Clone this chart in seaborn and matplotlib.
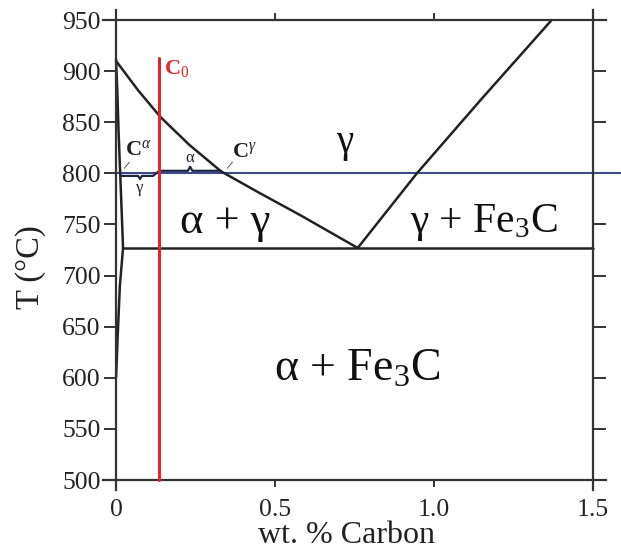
import matplotlib
matplotlib.use("Agg")
import matplotlib.pyplot as plt
import seaborn as sns
import pandas as pd

# Phase boundaries of the Fe–C diagram (wt. % C, °C)
a3_c = [0.0, 0.07, 0.14, 0.23, 0.33, 0.45, 0.58, 0.76]
a3_t = [910, 881, 855, 828, 802, 781, 759, 727]
acm_c = [0.76, 0.946, 1.15, 1.37]
acm_t = [727, 800, 873, 950]
alpha_upper_c = [0.0, 0.004, 0.008, 0.013, 0.018, 0.022]
alpha_upper_t = [912, 880, 840, 800, 760, 727]
alpha_solvus_c = [0.022, 0.012, 0.005, 0.0]
alpha_solvus_t = [727, 690, 640, 600]
eutectoid_c = [0.022, 1.5]
eutectoid_t = [727, 727]

# Alloy composition and the isotherm used for the lever rule
c0 = 0.136
c0_t = [500, 913]
c_alpha = 0.015
c_gamma = 0.33
t_iso = 800

x_ticks = [0, 0.5, 1.0, 1.5]
x_tick_labels = ["0", "0.5", "1.0", "1.5"]
y_ticks = [500, 550, 600, 650, 700, 750, 800, 850, 900, 950]

sns.set_theme(style="white")
plt.rcParams["font.family"] = ["Liberation Serif", "DejaVu Serif"]
plt.rcParams["mathtext.fontset"] = "custom"
plt.rcParams["mathtext.rm"] = "Liberation Serif"
plt.rcParams["mathtext.it"] = "Liberation Serif:italic"

fig = plt.figure(figsize=(6.21, 5.51), dpi=100)
ax = fig.add_axes([0.1664, 0.1103, 0.809, 0.8719])
ax.set_xlim(-0.04, 1.54)
ax.set_ylim(490, 960)

line_kw = dict(color="#222222", linewidth=1.8, estimator=None, sort=False, ax=ax, legend=False)


def boundary(cs, ts, **kw):
    df = pd.DataFrame({"c": cs, "t": ts})
    opts = dict(line_kw)
    opts.update(kw)
    sns.lineplot(data=df, x="c", y="t", **opts)


# Isotherm
ax.plot([0, 1.6], [t_iso, t_iso], color="#3c4a8c", linewidth=1.5, clip_on=False, zorder=2)

boundary(a3_c, a3_t)
boundary(acm_c, acm_t)
boundary(alpha_upper_c, alpha_upper_t)
boundary(alpha_solvus_c, alpha_solvus_t)
boundary(eutectoid_c, eutectoid_t)

# Lever-rule brace along the isotherm
lo, hi = t_iso - 2.5, t_iso + 2.5
mid_g = (c_alpha + c0) / 2
mid_a = (c0 + c_gamma) / 2
brace_c = [c_alpha, mid_g - 0.006, mid_g, mid_g + 0.006, c0 - 0.02, c0,
           mid_a - 0.007, mid_a, mid_a + 0.007, c_gamma]
brace_t = [lo, lo, lo - 3, lo, lo, hi, hi, hi + 4, hi, hi]
ax.plot(brace_c, brace_t, color="#1e2540", linewidth=1.6, zorder=3)

# Leader lines to the tie-line ends
ax.plot([0.026, 0.042], [805, 811], color="#555555", linewidth=0.7)
ax.plot([0.350, 0.366], [805, 811], color="#555555", linewidth=0.7)

# Alloy composition
ax.plot([c0, c0], c0_t, color="#e2262b", linewidth=2.2, zorder=4)

ax.text(0.150, 903, r"C$_0$", color="#e2262b", fontsize=16, fontweight="bold",
        ha="left", va="center")
ax.text(0.028, 823, r"C$^{\alpha}$", color="#222222", fontsize=16, fontweight="bold",
        ha="left", va="center")
ax.text(0.365, 821, r"C$^{\gamma}$", color="#222222", fontsize=16, fontweight="bold",
        ha="left", va="center")
ax.text(mid_a, 815, "α", fontsize=12, ha="center", va="center", color="#222222")
ax.text(mid_g, 786, "γ", fontsize=12, ha="center", va="center", color="#222222")

# Phase-field labels
ax.text(0.72, 830, "γ", fontsize=28, ha="center", va="center", color="#111111")
ax.text(0.343, 752, "α + γ", fontsize=32, ha="center", va="center", color="#111111")
ax.text(1.158, 752, r"γ + Fe$_3$C", fontsize=30, ha="center", va="center", color="#111111")
ax.text(0.758, 608, r"α + Fe$_3$C", fontsize=33, ha="center", va="center", color="#111111")

# Frame: spines placed on the data limits so they cross at the corners
for side, pos in (("left", 0), ("right", 1.5), ("bottom", 500), ("top", 950)):
    ax.spines[side].set_visible(True)
    ax.spines[side].set_position(("data", pos))
    ax.spines[side].set_color("#333333")
    ax.spines[side].set_linewidth(1.6)

ax.set_xticks(x_ticks)
ax.set_xticklabels(x_tick_labels)
ax.set_yticks(y_ticks)
ax.tick_params(axis="both", direction="out", colors="#333333", labelcolor="#222222",
               labelsize=18.5, width=1.4)
ax.tick_params(axis="y", length=9, pad=2, left=True, right=True, labelright=False)
ax.tick_params(axis="x", length=5, pad=9, bottom=True, top=True, labeltop=False)

ax.set_xlabel("wt. % Carbon", fontsize=23, color="#222222")
ax.set_ylabel("T (°C)", fontsize=23.5, color="#222222")
ax.xaxis.set_label_coords(0.485, -0.064)
ax.yaxis.set_label_coords(-0.114, 0.465)

fig.savefig("out.png", dpi=100)
